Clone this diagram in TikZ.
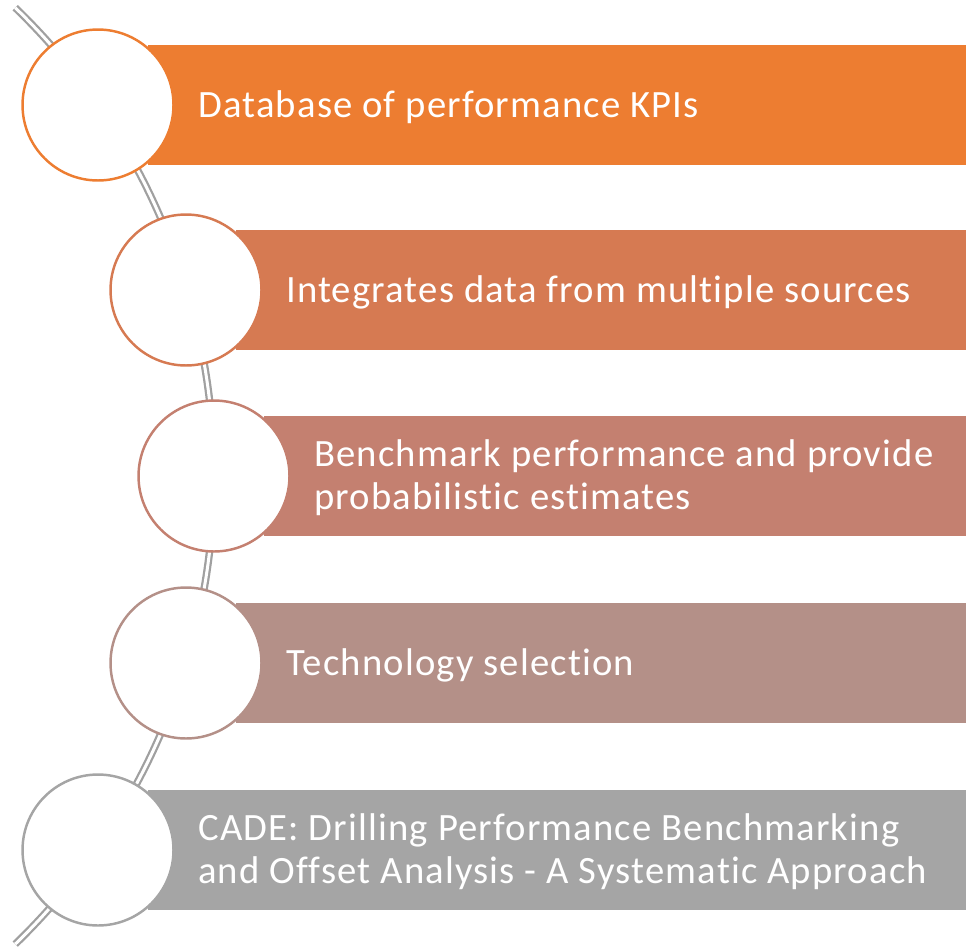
\documentclass[tikz,border=0pt]{standalone}
\usepackage{fontspec}
\setmainfont{Carlito}[LetterSpace=3.0, Ligatures=NoCommon]
\usetikzlibrary{positioning,calc,backgrounds}
\definecolor{stOrange}{RGB}{237,125,49}
\definecolor{stCopper}{RGB}{214,122,82}
\definecolor{stClay}{RGB}{196,128,112}
\definecolor{stRose}{RGB}{180,144,136}
\definecolor{stGray}{RGB}{165,165,165}
\definecolor{railGray}{RGB}{160,160,160}
\tikzset{
    stepdot/.style={circle, draw=#1, line width=1.4pt, fill=white,
                    minimum size=3.02cm, inner sep=0},
    bar/.style={rectangle, fill=#1, minimum height=2.4cm, inner sep=0},
    caption/.style={font=\fontsize{22}{24.5}\selectfont, text=white,
                    align=left, inner sep=0, yshift=-0.04cm},
    rail/.style={draw=railGray, line width=0.045cm, double=white,
                 double distance=0.06cm}
}
\begin{document}
\begin{tikzpicture}[x=0.02cm, y=-0.02cm]
  \useasboundingbox (0,0) rectangle (966,950);

  % Circles along the rail
  \node[stepdot=stOrange] (step1) at (98,105) {};
  \node[stepdot=stCopper] (step2) at (186,290) {};
  \node[stepdot=stClay]   (step3) at (214,476) {};
  \node[stepdot=stRose]   (step4) at (186,663) {};
  \node[stepdot=stGray]   (step5) at (98,850) {};

  % Rail and bars behind the circles
  \begin{scope}[on background layer]
    \coordinate (hub) at (-437,476);
    \draw[rail] ($(hub)+(-46:651)$) arc[start angle=46, end angle=-46, radius=13.02cm];
    \node[bar=stOrange, minimum width=16.36cm, right=1cm of step1.center] (bar1) {};
    \node[bar=stCopper, minimum width=14.6cm, right=1cm of step2.center] (bar2) {};
    \node[bar=stClay, minimum width=14.04cm, right=1cm of step3.center] (bar3) {};
    \node[bar=stRose, minimum width=14.6cm, right=1cm of step4.center] (bar4) {};
    \node[bar=stGray, minimum width=16.36cm, right=1cm of step5.center] (bar5) {};
  \end{scope}

  % Labels
  \node[caption, right=2cm of step1.center] (txt1) {Database of performance KPIs};
  \node[caption, right=2cm of step2.center] (txt2) {Integrates data from multiple sources};
  \node[caption, right=2cm of step3.center] (txt3) {Benchmark performance and provide\\probabilistic estimates};
  \node[caption, right=2cm of step4.center] (txt4) {Technology selection};
  \node[caption, right=2cm of step5.center] (txt5) {CADE: Drilling Performance Benchmarking\\and Offset Analysis - A Systematic Approach};
\end{tikzpicture}
\end{document}
